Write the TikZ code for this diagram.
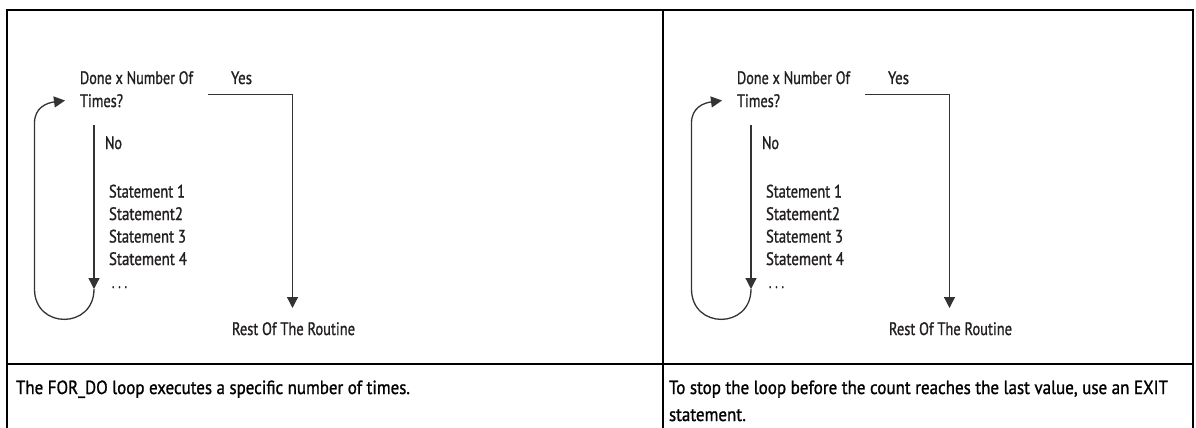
\documentclass[tikz,border=0pt]{standalone}
\usepackage{fontspec}
\setmainfont{PT Sans}
\newfontfamily\dfont{PT Sans}[FakeBold=1.2]
\usepackage{graphicx}
\usetikzlibrary{arrows.meta,calc}
\definecolor{ink}{HTML}{231F20}
\definecolor{linecol}{HTML}{333333}
\newsavebox\fitbox
\newcommand\fitw[2]{\sbox\fitbox{#2}\pgfmathsetmacro\fitsx{#1/\the\wd\fitbox}\scalebox{\fitsx}[1]{\usebox\fitbox}}
\newcommand\capfont{\dfont\fontsize{19}{23}\selectfont}
\begin{document}
\sbox\fitbox{\capfont To stop the loop before the count reaches the last value, use an EXIT}%
\pgfmathsetmacro\capsx{499/\the\wd\fitbox}%
\begin{tikzpicture}[x=1pt,y=-1pt,
  txt/.style={anchor=base west,inner sep=0pt,outer sep=0pt,text=ink,font=\dfont\fontsize{18}{21}\selectfont},
  captxt/.style={anchor=base west,inner sep=0pt,outer sep=0pt,text=black,font=\capfont},
  flow/.style={draw=linecol,line width=1.3pt},
  arr/.style={flow,-{Triangle[length=11pt,width=11pt]}},
  rule/.style={draw=black,line width=2.2pt,line join=miter}]
\useasboundingbox (0,0) rectangle (1196,428);
\fill[white] (0,0) rectangle (1196,428);
% table
\draw[rule] (7,428) -- (7,10) -- (1193,10) -- (1193,428);
\draw[rule] (663,10) -- (663,428);
\draw[rule] (7,364) -- (1193,364);
% two panels
\foreach \dx/\p in {0/a,657/b}{
  \node[txt] (done-\p) at (80+\dx,84) {\fitw{113}{Done x Number Of}};
  \node[txt] (times-\p) at (80+\dx,107) {\fitw{43}{Times?}};
  \node[txt] (yes-\p) at (231+\dx,84) {\fitw{21}{Yes}};
  \node[txt] (no-\p) at (105+\dx,149) {\fitw{17}{No}};
  \node[txt] (s1-\p) at (109+\dx,197.5) {\fitw{76}{Statement 1}};
  \node[txt] (s2-\p) at (109+\dx,220) {\fitw{74}{Statement2}};
  \node[txt] (s3-\p) at (109+\dx,242.5) {\fitw{77}{Statement 3}};
  \node[txt] (s4-\p) at (109+\dx,265) {\fitw{78}{Statement 4}};
  \node[txt] (dots-\p) at (112+\dx,288) {\fitw{15}{. . .}};
  \node[txt,anchor=base] (rest-\p) at (293.5+\dx,335) {\fitw{123}{Rest Of The Routine}};
  % connector points
  \coordinate (yesA-\p) at (208+\dx,94.5);
  \coordinate (yesB-\p) at (292.5+\dx,94.5);
  \coordinate (yesC-\p) at (292.5+\dx,308);
  \coordinate (noT-\p) at (94+\dx,125);
  \coordinate (noB-\p) at (94+\dx,289);
  \coordinate (loopL-\p) at (34.5+\dx,289);
  \coordinate (loopT-\p) at (34.5+\dx,123);
  \coordinate (entry-\p) at (65+\dx,100.5);
  % yes branch
  \draw[arr] (yesA-\p) -- (yesB-\p) -- (yesC-\p);
  % no branch
  \draw[arr] (noT-\p) -- (noB-\p);
  % loop back
  \draw[arr] (noB-\p) .. controls ($(noB-\p)+(0,40.5)$) and ($(loopL-\p)+(0,40.5)$) .. (loopL-\p)
     -- (loopT-\p) .. controls ($(loopT-\p)+(0,-15)$) and ($(entry-\p)+(-19,2.5)$) .. (entry-\p);
}
% captions
\node[captxt] (capA) at (16,394) {\fitw{394}{The FOR\_DO loop executes a specific number of times.}};
\node[captxt] (capB1) at (669,394) {\scalebox{\capsx}[1]{To stop the loop before the count reaches the last value, use an EXIT}};
\node[captxt] (capB2) at (669,421) {\scalebox{\capsx}[1]{statement.}};
\end{tikzpicture}
\end{document}
